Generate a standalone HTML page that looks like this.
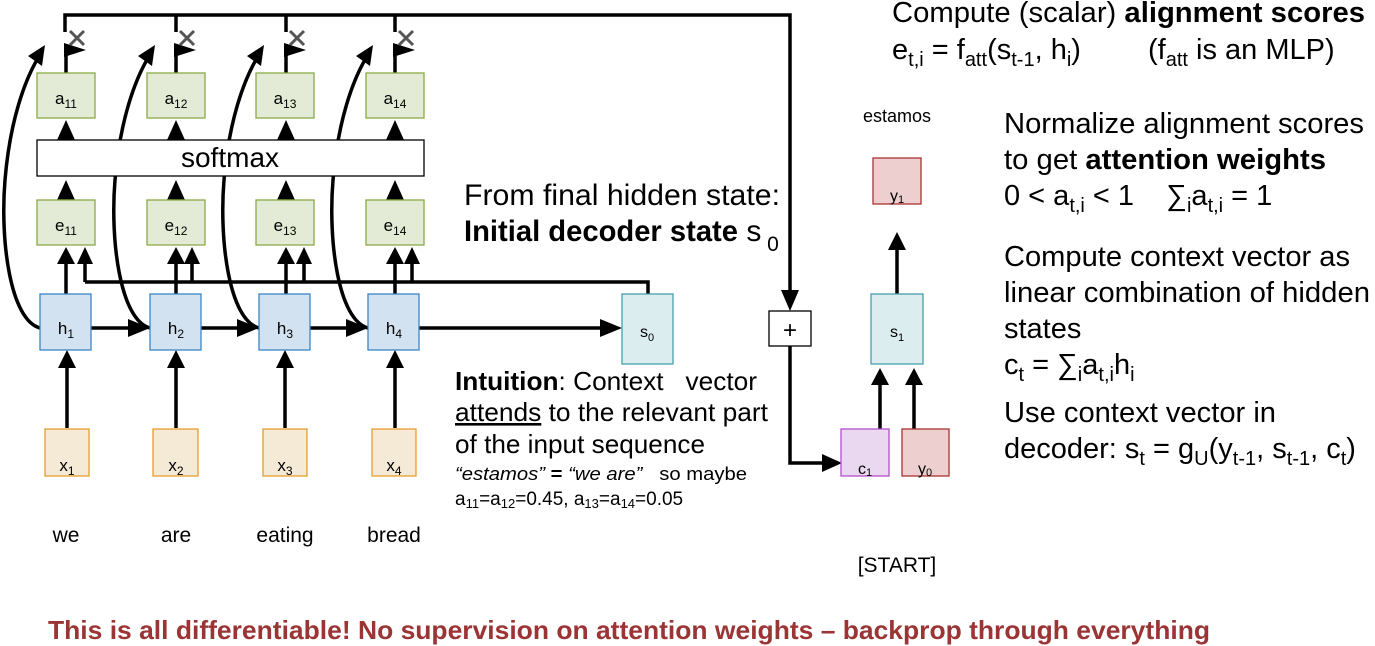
<!DOCTYPE html>
<html><head><meta charset="utf-8"><style>
html,body{margin:0;padding:0;background:#fff;}
svg{display:block;font-family:"Liberation Sans",Arial,sans-serif;}
text{white-space:pre;}
</style></head><body>
<svg width="1375" height="646" viewBox="0 0 1375 646" xmlns="http://www.w3.org/2000/svg">
<g stroke="#000" stroke-width="3.5" fill="none">
<path d="M65,32 V15 H790 V300"/>
<path d="M176,15 V32 M286,15 V32 M395,15 V32"/>
<path d="M66,73 V44 M176,73 V44 M286,73 V44 M395,73 V44"/>
<path d="M66,294 V262 M176,294 V262 M286,294 V262 M395,294 V262"/>
<path d="M85,282 V262 M192,282 V262 M304,282 V262 M412,282 V262"/>
<path d="M85,282 H648 V294"/>
<path d="M91,328 H132 M201,328 H241 M310,328 H350 M419,328 H604"/>
<path d="M67,428 V366 M176,428 V366 M285,428 V366 M395,428 V366"/>
<path d="M790,346 V463 H824"/>
<path d="M880,429 V382 M914,429 V382"/>
<path d="M897,294 V248"/>
<path d="M40,328 C10,320 0,240 5,180 C10,120 25,80 38,58"/>
<path d="M150,328 C120,320 110,240 115,180 C120,120 135,80 148,58"/>
<path d="M259,328 C229,320 219,240 224,180 C229,120 244,80 257,58"/>
<path d="M368,328 C338,320 328,240 333,180 C338,120 353,80 366,58"/>
</g>
<g fill="#000">
<polygon points="64,43 86,50 64,57"/><polygon points="174,43 196,50 174,57"/><polygon points="284,43 306,50 284,57"/><polygon points="393,43 415,50 393,57"/>
<polygon points="57,140 75,140 66,120"/><polygon points="167,140 185,140 176,120"/><polygon points="277,140 295,140 286,120"/><polygon points="386,140 404,140 395,120"/>
<polygon points="57,200 75,200 66,180"/><polygon points="167,200 185,200 176,180"/><polygon points="277,200 295,200 286,180"/><polygon points="386,200 404,200 395,180"/>
<polygon points="57,264 75,264 66,247"/><polygon points="167,264 185,264 176,247"/><polygon points="277,264 295,264 286,247"/><polygon points="386,264 404,264 395,247"/>
<polygon points="77,264 93,264 85,247"/><polygon points="184,264 200,264 192,247"/><polygon points="296,264 312,264 304,247"/><polygon points="404,264 420,264 412,247"/>
<polygon points="58,368 76,368 67,350"/><polygon points="167,368 185,368 176,350"/><polygon points="276,368 294,368 285,350"/><polygon points="386,368 404,368 395,350"/>
<polygon points="128,319 128,337 150,328"/><polygon points="237,319 237,337 259,328"/><polygon points="346,319 346,337 368,328"/><polygon points="600,319 600,337 622,328"/>
<polygon points="781,290 799,290 790,311"/>
<polygon points="822,454 822,472 842,463"/>
<polygon points="871,385 889,385 880,368"/><polygon points="905,385 923,385 914,368"/>
<polygon points="888,250 906,250 897,232"/>
<polygon points="45,45 28,56 42,66"/><polygon points="155,45 138,56 152,66"/><polygon points="264,45 247,56 261,66"/><polygon points="373,45 356,56 370,66"/>
</g>
<g stroke="#555" stroke-width="3">
<path d="M70,31 L84,45 M84,31 L70,45"/><path d="M180,31 L194,45 M194,31 L180,45"/><path d="M290,31 L304,45 M304,31 L290,45"/><path d="M399,31 L413,45 M413,31 L399,45"/>
</g>
<g stroke="#8aab45" stroke-width="1.3" fill="#e3ebd6">
<rect x="37" y="73" width="58" height="45"/><rect x="147" y="73" width="58" height="45"/><rect x="256" y="73" width="58" height="45"/><rect x="366" y="73" width="58" height="45"/>
<rect x="37" y="200" width="58" height="45"/><rect x="147" y="200" width="58" height="45"/><rect x="256" y="200" width="58" height="45"/><rect x="366" y="200" width="58" height="45"/>
</g>
<rect x="37" y="140" width="387" height="36" fill="#fff" stroke="#000" stroke-width="1.3"/>
<g stroke="#3d85c6" stroke-width="1.3" fill="#d2e2f0">
<rect x="40" y="294" width="51" height="56"/><rect x="150" y="294" width="51" height="56"/><rect x="259" y="294" width="51" height="56"/><rect x="368" y="294" width="51" height="56"/>
</g>
<g stroke="#e69d2e" stroke-width="1.3" fill="#f5ead5">
<rect x="45" y="429" width="44" height="47"/><rect x="153" y="429" width="45" height="47"/><rect x="263" y="429" width="44" height="47"/><rect x="372" y="429" width="44" height="47"/>
</g>
<g stroke="#45a0ad" stroke-width="1.3" fill="#dcedef">
<rect x="622" y="294" width="51" height="70"/><rect x="871" y="294" width="52" height="70"/>
</g>
<rect x="769" y="311" width="42" height="35" fill="#fff" stroke="#000" stroke-width="1.3"/>
<g stroke="#a33" stroke-width="1.3" fill="#edcfcf">
<rect x="873" y="158" width="48" height="46"/><rect x="902" y="429" width="47" height="47"/>
</g>
<rect x="841" y="429" width="48" height="47" fill="#ead8f0" stroke="#b44fcc" stroke-width="1.3"/>
<g font-size="17" text-anchor="middle" fill="#000">
<text x="66" y="104">a<tspan font-size="12" dy="4">11</tspan></text>
<text x="176" y="104">a<tspan font-size="12" dy="4">12</tspan></text>
<text x="285" y="104">a<tspan font-size="12" dy="4">13</tspan></text>
<text x="395" y="104">a<tspan font-size="12" dy="4">14</tspan></text>
<text x="66" y="231">e<tspan font-size="12" dy="4">11</tspan></text>
<text x="176" y="231">e<tspan font-size="12" dy="4">12</tspan></text>
<text x="285" y="231">e<tspan font-size="12" dy="4">13</tspan></text>
<text x="395" y="231">e<tspan font-size="12" dy="4">14</tspan></text>
<text x="66" y="334">h<tspan font-size="12" dy="4">1</tspan></text>
<text x="176" y="334">h<tspan font-size="12" dy="4">2</tspan></text>
<text x="285" y="334">h<tspan font-size="12" dy="4">3</tspan></text>
<text x="394" y="334">h<tspan font-size="12" dy="4">4</tspan></text>
<text x="67" y="471">x<tspan font-size="12" dy="4">1</tspan></text>
<text x="176" y="471">x<tspan font-size="12" dy="4">2</tspan></text>
<text x="285" y="471">x<tspan font-size="12" dy="4">3</tspan></text>
<text x="394" y="471">x<tspan font-size="12" dy="4">4</tspan></text>
<text x="647" y="337" font-size="16">s<tspan font-size="11" dy="4">0</tspan></text>
<text x="897" y="337" font-size="16">s<tspan font-size="11" dy="4">1</tspan></text>
<text x="897" y="201" font-size="16">y<tspan font-size="11" dy="2">1</tspan></text>
<text x="865" y="474" font-size="16">c<tspan font-size="11" dy="2">1</tspan></text>
<text x="925" y="474" font-size="16">y<tspan font-size="11" dy="2">0</tspan></text>
<text x="790" y="338" font-size="24">+</text>
</g>
<text x="230" y="167" font-size="28" text-anchor="middle">softmax</text>
<g font-size="21" text-anchor="middle">
<text x="66" y="542">we</text><text x="176" y="542">are</text><text x="285" y="542">eating</text><text x="394" y="542">bread</text>
<text x="897" y="572">[START]</text>
<text x="897" y="122" font-size="18">estamos</text>
</g>
<g font-size="30" fill="#000">
<text x="464" y="205" textLength="316" lengthAdjust="spacingAndGlyphs">From final hidden state:</text>
<text x="464" y="241"><tspan font-weight="bold" textLength="274" lengthAdjust="spacingAndGlyphs">Initial decoder state</tspan> s<tspan font-size="21" dy="10"> 0</tspan></text>
</g>
<g font-size="26">
<text x="455" y="390" textLength="302" lengthAdjust="spacingAndGlyphs"><tspan font-weight="bold">Intuition</tspan>: Context   vector</text>
<text x="455" y="421" textLength="313" lengthAdjust="spacingAndGlyphs"><tspan text-decoration="underline">attends</tspan> to the relevant part</text>
<text x="455" y="453" textLength="250" lengthAdjust="spacingAndGlyphs">of the input sequence</text>
</g>
<text x="455" y="480" font-size="18" textLength="292" lengthAdjust="spacingAndGlyphs"><tspan font-style="italic">“estamos”</tspan> <tspan font-weight="bold">=</tspan> <tspan font-style="italic">“we are”</tspan>   so maybe</text>
<text x="455" y="505" font-size="19">a<tspan font-size="13" dy="3">11</tspan><tspan dy="-3">=a</tspan><tspan font-size="13" dy="3">12</tspan><tspan dy="-3">=0.45, a</tspan><tspan font-size="13" dy="3">13</tspan><tspan dy="-3">=a</tspan><tspan font-size="13" dy="3">14</tspan><tspan dy="-3">=0.05</tspan></text>
<g font-size="29">
<text x="892" y="22" textLength="473" lengthAdjust="spacingAndGlyphs">Compute (scalar) <tspan font-weight="bold">alignment scores</tspan></text>
<text x="892" y="59">e<tspan font-size="20" dy="7">t,i</tspan><tspan dy="-7"> = f</tspan><tspan font-size="20" dy="7">att</tspan><tspan dy="-7">(s</tspan><tspan font-size="20" dy="7">t-1</tspan><tspan dy="-7">, h</tspan><tspan font-size="20" dy="7">i</tspan><tspan dy="-7">)</tspan></text>
<text x="1148" y="59">(f<tspan font-size="20" dy="7">att</tspan><tspan dy="-7"> is an MLP)</tspan></text>
<text x="1004" y="133" textLength="360" lengthAdjust="spacingAndGlyphs">Normalize alignment scores</text>
<text x="1004" y="169" textLength="322" lengthAdjust="spacingAndGlyphs">to get <tspan font-weight="bold">attention weights</tspan></text>
<text x="1004" y="205">0 &lt; a<tspan font-size="20" dy="7">t,i</tspan><tspan dy="-7"> &lt; 1    ∑</tspan><tspan font-size="20" dy="7">i</tspan><tspan dy="-7">a</tspan><tspan font-size="20" dy="7">t,i</tspan><tspan dy="-7"> = 1</tspan></text>
<text x="1004" y="266" textLength="346" lengthAdjust="spacingAndGlyphs">Compute context vector as</text>
<text x="1004" y="302" textLength="366" lengthAdjust="spacingAndGlyphs">linear combination of hidden</text>
<text x="1004" y="338">states</text>
<text x="1004" y="374">c<tspan font-size="20" dy="7">t</tspan><tspan dy="-7"> = ∑</tspan><tspan font-size="20" dy="7">i</tspan><tspan dy="-7">a</tspan><tspan font-size="20" dy="7">t,i</tspan><tspan dy="-7">h</tspan><tspan font-size="20" dy="7">i</tspan></text>
<text x="1004" y="422" textLength="272" lengthAdjust="spacingAndGlyphs">Use context vector in</text>
<text x="1004" y="458">decoder: s<tspan font-size="20" dy="7">t</tspan><tspan dy="-7"> = g</tspan><tspan font-size="20" dy="7">U</tspan><tspan dy="-7">(y</tspan><tspan font-size="20" dy="7">t-1</tspan><tspan dy="-7">, s</tspan><tspan font-size="20" dy="7">t-1</tspan><tspan dy="-7">, c</tspan><tspan font-size="20" dy="7">t</tspan><tspan dy="-7">)</tspan></text>
</g>
<text x="48" y="639" font-size="26" font-weight="bold" fill="#9b3434" textLength="1162" lengthAdjust="spacingAndGlyphs">This is all differentiable! No supervision on attention weights – backprop through everything</text>
</svg>
</body></html>
